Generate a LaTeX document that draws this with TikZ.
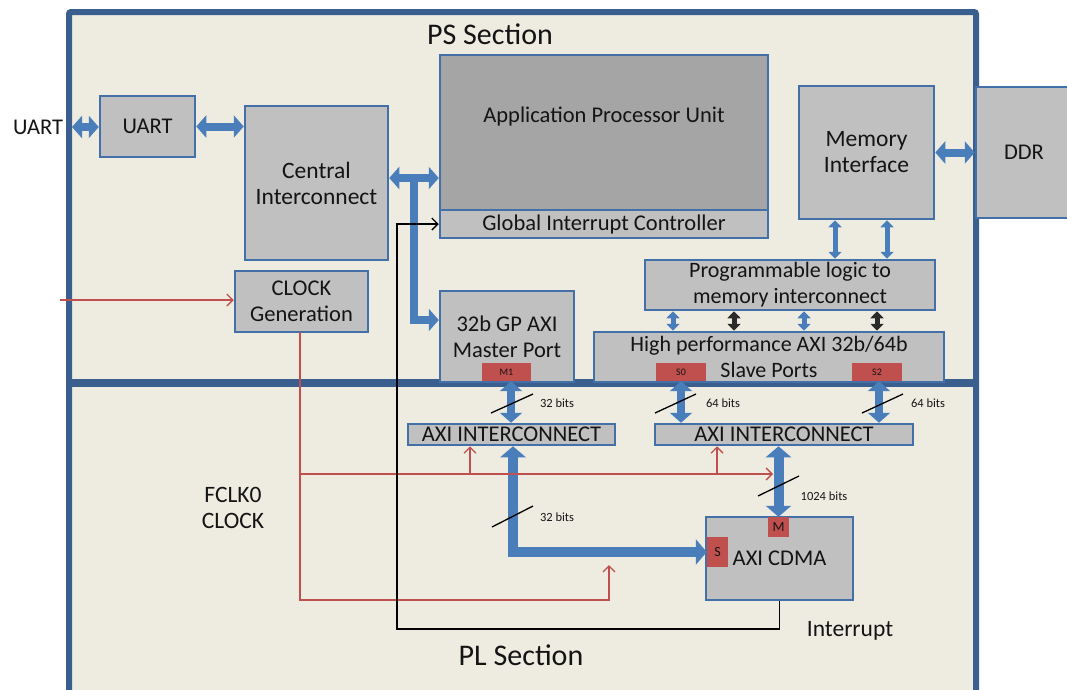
\documentclass[tikz,border=0pt]{standalone}
\usepackage{fontspec}
\setmainfont{Carlito}
\usetikzlibrary{arrows.meta}
\definecolor{frameblue}{HTML}{3A5F8F}
\definecolor{boxblue}{HTML}{4470AA}
\definecolor{boxgray}{HTML}{C0C0C0}
\definecolor{apugray}{HTML}{A5A5A5}
\definecolor{bgbeige}{HTML}{EEECE1}
\definecolor{busblue}{HTML}{4A7EBB}
\definecolor{redline}{HTML}{C0504D}
\definecolor{portred}{HTML}{C0504D}
\definecolor{textdark}{HTML}{141414}
\definecolor{darkbus}{HTML}{2B2B2B}
\tikzset{
  box/.style={draw=boxblue, line width=2.5pt, fill=boxgray, inner sep=0pt, align=center,
    text=textdark, font=\fontsize{22.5}{26}\selectfont},
  axibox/.style={box, font=\fontsize{22.5}{24}\selectfont},
  port/.style={fill=portred, inner sep=0pt, text=textdark},
  lbl/.style={text=textdark, align=center, font=\fontsize{22.5}{26}\selectfont},
  big/.style={font=\fontsize{23.5}{26}\selectfont},
  mid/.style={font=\fontsize{22}{26}\selectfont},
  title/.style={text=textdark, font=\fontsize{30}{34}\selectfont},
  small/.style={text=textdark, font=\fontsize{12.5}{14}\selectfont},
  bus/.style={draw=busblue, line width=8pt, line join=miter, >={Triangle[width=22pt,length=10pt]}},
  bigbus/.style={draw=busblue, line width=10pt, line join=miter, >={Triangle[width=25pt,length=11pt]}},
  thinbus/.style={draw=busblue, line width=5pt, >={Triangle[width=13pt,length=7pt]}},
  darkthin/.style={thinbus, draw=darkbus},
  clkline/.style={draw=redline, line width=1.3pt, >={Straight Barb[length=6pt,width=12pt]}},
  intline/.style={draw=black, line width=1.3pt, >={Straight Barb[length=6pt,width=12pt]}},
  slash/.style={draw=black, line width=1.3pt},
}
\begin{document}
\begin{tikzpicture}[x=1pt,y=-1pt]
\useasboundingbox (0,0) rectangle (1067,689);
% frame
\draw[frameblue, line width=6pt, fill=bgbeige, rounded corners=2pt] (69,12) rectangle (976,705);
\draw[frameblue, line width=8pt] (69,382.5) -- (976,382.5);
\node[title] (pstitle) at (490,34) {PS Section};
\node[title] (pltitle) at (521,655) {PL Section};

% boxes
\node[box, minimum width=95pt, minimum height=61pt] (uart) at (147.5,126.5) {UART};
\node[box, big, minimum width=143pt, minimum height=154pt] (ci) at (316.5,183) {Central\\Interconnect};
\node[box, minimum width=133pt, minimum height=61pt] (clk) at (301.5,301.5) {CLOCK\\Generation};
\node[box, fill=apugray, minimum width=328pt, minimum height=155pt] (apu) at (604,132.5) {};
\node[lbl] (apulabel) at (604,116) {Application Processor Unit};
\node[box, minimum width=328pt, minimum height=28pt] (gic) at (604,224) {Global Interrupt Controller};
\node[box, big, minimum width=135pt, minimum height=133pt] (mem) at (866.5,152.5) {Memory\\Interface};
\node[box, minimum width=96pt, minimum height=131pt] (ddr) at (1024,152.5) {DDR};
\node[box, mid, minimum width=290pt, minimum height=50pt] (plm) at (790,285) {Programmable logic to\\memory interconnect};
\node[box, mid, minimum width=350pt, minimum height=50pt] (hp) at (769,357) {High performance AXI 32b/64b\\Slave Ports};
\node[box, minimum width=134pt, minimum height=91pt] (gp) at (507,336.5) {32b GP AXI\\Master Port};
\node[port, minimum width=49pt, minimum height=18pt, font=\fontsize{10}{11}\selectfont] (m1) at (506.5,372) {M1};
\node[port, minimum width=50pt, minimum height=18pt, font=\fontsize{10}{11}\selectfont] (s0) at (681,372) {S0};
\node[port, minimum width=50pt, minimum height=18pt, font=\fontsize{10}{11}\selectfont] (s2) at (877,372) {S2};
\node[axibox, minimum width=207pt, minimum height=21pt] (axil) at (511.5,434.5) {AXI INTERCONNECT};
\node[axibox, minimum width=258pt, minimum height=21pt] (axir) at (784,434.5) {AXI INTERCONNECT};
\node[box, minimum width=147pt, minimum height=83pt] (cdma) at (779.5,558.5) {AXI CDMA};
\node[port, minimum width=21pt, minimum height=20pt, font=\fontsize{14}{15}\selectfont] (mp) at (778.5,527) {M};
\node[port, minimum width=21pt, minimum height=30pt, font=\fontsize{14}{15}\selectfont] (sp) at (717.5,552) {S};

% outside labels
\node[lbl] (uartlbl) at (38,127) {UART};
\node[lbl, big] (fclk) at (233,507.5) {FCLK0\\CLOCK};
\node[lbl, big] (intlbl) at (850,631) {Interrupt};

% buses
\coordinate (uartpin) at (72,127);
\draw[bus,<->] (uartpin) -- (uartpin -| uart.west);
\draw[bus,<->] (uart.east) -- (uart.east -| ci.west);
\coordinate (cibus) at (0,178);
\draw[bus,<->] (ci.east |- cibus) -- (apu.west |- cibus);
\coordinate (gpbus) at (414,174);
\coordinate (gpin) at (0,320);
\draw[bus,->] (gpbus) |- (gp.west |- gpin);
\draw[bus,<->] (mem.east) -- (mem.east -| ddr.west);
\draw[thinbus,<->] (mem.south -| 835,0) -- (plm.north -| 835,0);
\draw[thinbus,<->] (mem.south -| 887,0) -- (plm.north -| 887,0);
\draw[thinbus,<->] (plm.south -| 673,0) -- (hp.north -| 673,0);
\draw[darkthin,<->] (plm.south -| 734,0) -- (hp.north -| 734,0);
\draw[thinbus,<->] (plm.south -| 804,0) -- (hp.north -| 804,0);
\draw[darkthin,<->] (plm.south -| 877,0) -- (hp.north -| 877,0);
\draw[bus,<->] (m1.south -| 511,0) -- (axil.north -| 511,0);
\draw[bus,<->] (s0.south) -- (axir.north -| s0.south);
\draw[bus,<->] (s2.south -| 879,0) -- (axir.north -| 879,0);
\draw[bigbus,<->] (axil.south -| 513,0) |- (sp.west);
\draw[bigbus,<->] (axir.south -| mp.north) -- (mp.north);

% bit-width slashes and labels
\draw[slash] (491,413) -- (533,394);
\node[small] (b1) at (557,403) {32 bits};
\draw[slash] (655,413) -- (696,394);
\node[small] (b2) at (723,403) {64 bits};
\draw[slash] (862,413) -- (903,394);
\node[small] (b3) at (928,403) {64 bits};
\draw[slash] (492,527) -- (533,506);
\node[small] (b4) at (557,517) {32 bits};
\draw[slash] (758,496) -- (799,476);
\node[small] (b5) at (824,496) {1024 bits};

% clock lines
\coordinate (clkin) at (60,300);
\draw[clkline,->] (clkin) -- (clkin -| clk.west);
\coordinate (clkout) at (300,332);
\coordinate (clkbot) at (609,600);
\coordinate (clktip) at (609,565);
\draw[clkline,->] (clkout) |- (clkbot) -- (clktip);
\coordinate (clkmid) at (0,474);
\coordinate (clkend) at (773,474);
\draw[clkline,->] (clkout |- clkmid) -- (clkend);
\coordinate (br1) at (470,474);
\coordinate (br2) at (717,474);
\draw[clkline,->] (br1) -- (axil.south -| br1);
\draw[clkline,->] (br2) -- (axir.south -| br2);

% interrupt line
\coordinate (intc) at (397,629);
\draw[intline,->] (cdma.south) |- (intc) |- (gic.west);
\end{tikzpicture}
\end{document}
